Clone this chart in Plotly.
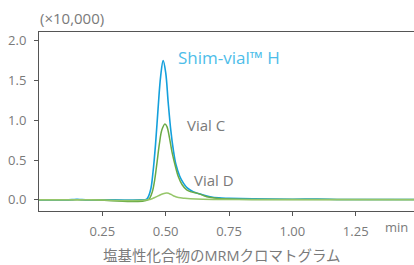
import plotly.graph_objects as go

# Shim-vial H (blue)
t_h = [0.0, 0.10, 0.13, 0.15, 0.17, 0.20, 0.30, 0.40, 0.425, 0.44, 0.45, 0.46, 0.47, 0.48, 0.49, 0.50,
       0.51, 0.52, 0.53, 0.54, 0.555, 0.57, 0.585, 0.61, 0.64, 0.675, 0.71, 0.75, 0.85, 1.0, 1.1, 1.2, 1.48]
v_h = [0.0, 0.0, 0.003, 0.008, 0.003, 0.0, 0.0, 0.0, 0.01, 0.12, 0.35, 0.70, 1.15, 1.55, 1.75, 1.60,
       1.22, 0.88, 0.63, 0.45, 0.30, 0.21, 0.15, 0.10, 0.07, 0.04, 0.025, 0.02, 0.012, 0.008, 0.01, 0.005, 0.005]

# Vial C (green)
t_c = [0.0, 0.20, 0.43, 0.445, 0.455, 0.465, 0.475, 0.485, 0.497, 0.505, 0.515, 0.525, 0.54, 0.55, 0.565,
       0.583, 0.60, 0.622, 0.645, 0.662, 0.70, 0.75, 0.85, 1.48]
v_c = [0.0, 0.0, 0.0, 0.08, 0.22, 0.45, 0.70, 0.88, 0.955, 0.92, 0.78, 0.60, 0.40, 0.29, 0.19,
       0.125, 0.10, 0.085, 0.06, 0.04, 0.02, 0.01, 0.005, 0.005]

# Vial D (light green)
t_d = [0.0, 0.20, 0.43, 0.45, 0.47, 0.49, 0.505, 0.52, 0.535, 0.55, 0.575, 0.62, 0.70, 1.48]
v_d = [0.0, 0.0, 0.0, 0.02, 0.05, 0.078, 0.085, 0.07, 0.045, 0.03, 0.02, 0.01, 0.005, 0.0]

x_ticks = [0.25, 0.50, 0.75, 1.00, 1.25]
y_ticks = [0.0, 0.5, 1.0, 1.5, 2.0]

FONT = "Open Sans, Noto Sans CJK JP, sans-serif"
GREY = "#7a7a7a"

fig = go.Figure()
fig.add_trace(go.Scatter(x=t_h, y=v_h, mode="lines", line=dict(color="#14a0dc", width=1.6, shape="spline")))
fig.add_trace(go.Scatter(x=t_c, y=v_c, mode="lines", line=dict(color="#6aaa45", width=1.5, shape="spline")))
fig.add_trace(go.Scatter(x=t_d, y=v_d, mode="lines", line=dict(color="#96c66a", width=1.5, shape="spline")))

fig.update_layout(
    width=414, height=265,
    margin=dict(l=39, r=0, t=32, b=54),
    paper_bgcolor="white", plot_bgcolor="white",
    showlegend=False,
    font=dict(family=FONT, color=GREY, size=13),
)
fig.update_xaxes(
    range=[0, 1.48], tickvals=x_ticks, ticktext=[f"{v:.2f}" for v in x_ticks],
    showgrid=False, zeroline=False, showline=True, linecolor="#555555", linewidth=1,
    mirror=True, ticks="outside", ticklen=4, tickcolor="#555555", ticklabelstandoff=4,
    tickfont=dict(size=13, color=GREY),
)
fig.update_yaxes(
    range=[-0.14, 2.11], tickvals=y_ticks, ticktext=[f"{v:.1f}" for v in y_ticks],
    showgrid=False, zeroline=False, showline=True, linecolor="#555555", linewidth=1,
    ticks="outside", ticklen=4, tickcolor="#555555", ticklabelstandoff=5,
    tickfont=dict(size=13, color=GREY),
)

anns = [
    dict(text="Shim-vial™ H", x=0.541, y=1.786, xref="x", yref="y", xanchor="left", yanchor="middle",
         font=dict(size=17, color="#4dbde9")),
    dict(text="Vial C", x=0.576, y=0.943, xref="x", yref="y", xanchor="left", yanchor="middle",
         font=dict(size=15, color=GREY)),
    dict(text="Vial D", x=0.604, y=0.25, xref="x", yref="y", xanchor="left", yanchor="middle",
         font=dict(size=15, color=GREY)),
    dict(text="min", x=1.409, y=-0.089, xref="x", yref="paper", xanchor="center", yanchor="middle",
         font=dict(size=13, color=GREY)),
    dict(text="(×10,000)", x=0.088, y=1.078, xref="paper", yref="paper", xanchor="center", yanchor="middle",
         font=dict(size=15, color=GREY)),
    dict(text="塩基性化合物のMRMクロマトグラム", x=0.488, y=-0.246, xref="paper", yref="paper",
         xanchor="center", yanchor="middle", font=dict(size=14.5, color=GREY)),
]
for a in anns:
    a["showarrow"] = False
    fig.add_annotation(**a)

fig.write_html("out.html", config={"displayModeBar": False},
               post_script="document.body.style.margin='0';document.body.style.overflow='hidden';")
